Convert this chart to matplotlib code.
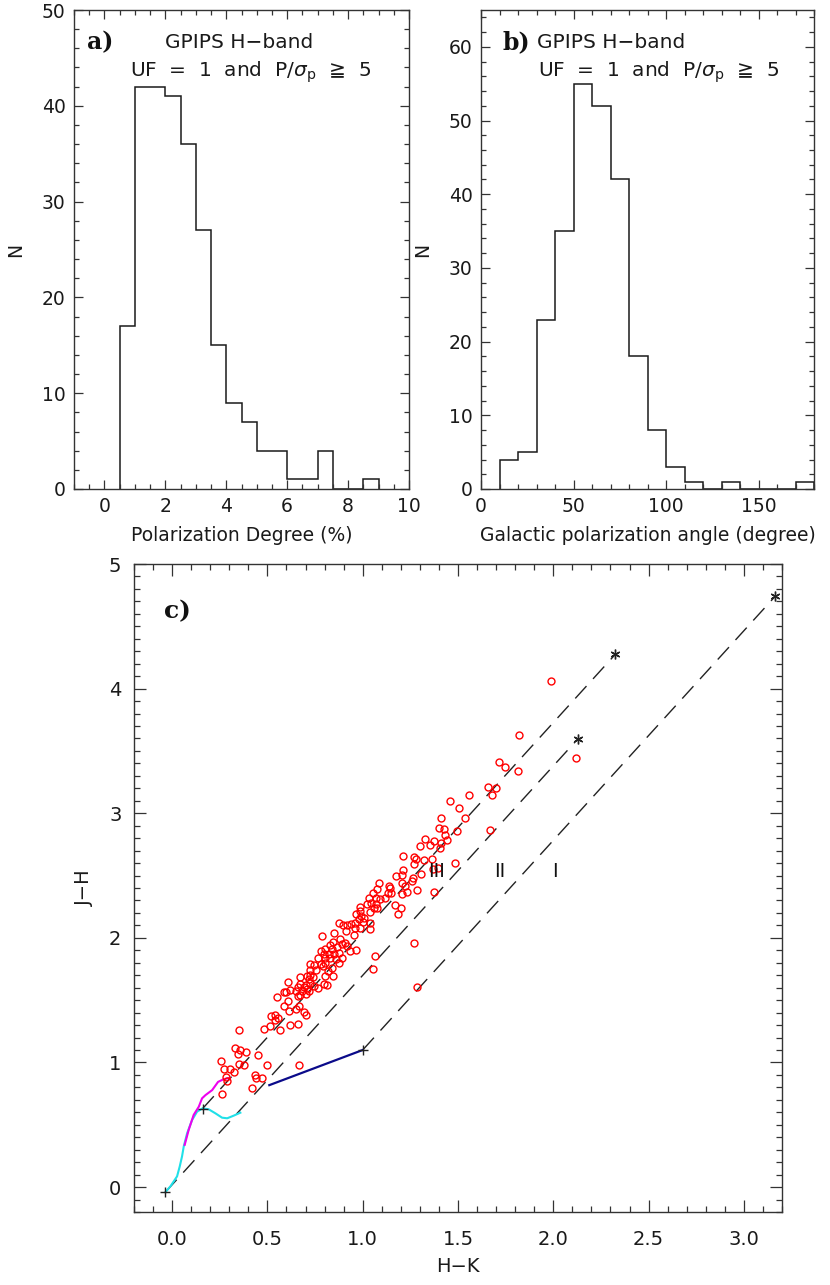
import numpy as np
import matplotlib
matplotlib.use("Agg")
import matplotlib.pyplot as plt
from matplotlib.ticker import MultipleLocator

plt.rcParams['font.family'] = ['DejaVu Sans']
plt.rcParams['mathtext.fontset'] = 'dejavusans'

# ---------------- data ----------------
# panel a: polarization degree histogram
pol_edges = [0.5, 1.0, 1.5, 2.0, 2.5, 3.0, 3.5, 4.0, 4.5, 5.0, 5.5, 6.0,
             6.5, 7.0, 7.5, 8.0, 8.5, 9.0]
pol_counts = [17, 42, 42, 41, 36, 27, 15, 9, 7, 4, 4, 1, 1, 4, 0, 0, 1]

# panel b: galactic polarization angle histogram
ang_edges = [10, 20, 30, 40, 50, 60, 70, 80, 90, 100, 110, 120, 130, 140,
             150, 160, 170, 180]
ang_counts = [4, 5, 23, 35, 55, 52, 42, 18, 8, 3, 1, 0, 1, 0, 0, 0, 1]

# panel c: colour-colour diagram (H-K, J-H)
star_hk = [1.988, 1.818, 1.714, 1.745, 1.815, 2.121, 1.656, 1.701, 1.679, 1.558,
           1.460, 1.506, 1.535, 1.413, 1.399, 1.425, 1.495, 1.430, 1.443, 1.329,
           1.373, 1.355, 1.303, 1.411, 1.408, 1.670, 1.212, 1.268, 1.282, 1.324,
           1.364, 1.268, 1.486, 1.212, 1.369, 1.393, 1.308, 1.207, 1.264, 1.259,
           1.207, 1.224, 1.285, 1.373, 1.233, 1.207, 1.201, 1.268,
           1.173, 1.138, 1.145, 1.088, 1.076, 1.131, 1.149, 1.172, 1.186, 1.055,
           1.070, 1.031, 1.093, 1.119, 1.044, 1.023, 1.070, 0.988, 1.061, 1.040,
           1.076, 0.984, 0.967, 0.992, 1.009, 0.979, 0.962, 1.002, 1.040, 0.939,
           0.918, 0.874, 0.894, 0.958, 0.988, 1.037, 0.848, 0.914, 0.953, 0.787,
           0.883, 0.845, 0.906, 0.892, 0.918, 0.831, 0.866, 0.804, 0.782, 0.935,
           0.965, 0.766, 0.799, 0.822, 0.726, 0.747, 0.782, 0.839, 0.892, 1.063,
           1.055, 1.285,
           0.839, 0.852, 0.874, 0.804, 0.831, 0.804, 0.790, 0.862, 0.874, 0.726,
           0.757, 0.816, 0.804, 0.845, 0.726, 0.740, 0.719, 0.708, 0.673, 0.607,
           0.795, 0.813, 0.673, 0.705, 0.726, 0.747, 0.764, 0.659, 0.694, 0.600,
           0.617, 0.652, 0.682, 0.708, 0.717, 0.589, 0.659, 0.673, 0.705, 0.549,
           0.607, 0.589, 0.664, 0.651, 0.612, 0.690, 0.705, 0.521, 0.538, 0.556,
           0.538, 0.484, 0.516, 0.568, 0.621, 0.659, 0.349, 0.332, 0.358, 0.344,
           0.390, 0.449, 0.349, 0.376, 0.257, 0.271, 0.302, 0.323, 0.285, 0.289,
           0.433, 0.442, 0.469, 0.496, 0.420, 0.262, 0.664]
star_jh = [4.058, 3.625, 3.409, 3.372, 3.338, 3.446, 3.210, 3.202, 3.143, 3.148,
           3.098, 3.039, 2.965, 2.965, 2.879, 2.871, 2.861, 2.827, 2.784, 2.795,
           2.779, 2.747, 2.741, 2.760, 2.720, 2.867, 2.656, 2.646, 2.635, 2.622,
           2.632, 2.595, 2.598, 2.547, 2.555, 2.560, 2.512, 2.502, 2.480, 2.460,
           2.441, 2.414, 2.380, 2.369, 2.369, 2.348, 2.241, 1.959,
           2.500, 2.420, 2.401, 2.441, 2.393, 2.361, 2.361, 2.263, 2.188, 2.356,
           2.321, 2.316, 2.313, 2.321, 2.279, 2.268, 2.273, 2.247, 2.236, 2.209,
           2.241, 2.215, 2.188, 2.175, 2.161, 2.148, 2.121, 2.127, 2.121, 2.109,
           2.103, 2.117, 2.103, 2.081, 2.081, 2.069, 2.041, 2.055, 2.023, 2.015,
           1.989, 1.967, 1.962, 1.954, 1.935, 1.943, 1.927, 1.909, 1.895, 1.895,
           1.901, 1.842, 1.869, 1.874, 1.789, 1.781, 1.794, 1.762, 1.837, 1.856,
           1.749, 1.608,
           1.909, 1.869, 1.882, 1.842, 1.842, 1.802, 1.776, 1.829, 1.802, 1.741,
           1.741, 1.736, 1.696, 1.696, 1.704, 1.682, 1.670, 1.696, 1.688, 1.648,
           1.630, 1.624, 1.630, 1.624, 1.634, 1.616, 1.598, 1.608, 1.603, 1.568,
           1.582, 1.571, 1.576, 1.590, 1.571, 1.563, 1.536, 1.544, 1.550, 1.523,
           1.496, 1.456, 1.456, 1.430, 1.411, 1.403, 1.377, 1.371, 1.377, 1.358,
           1.342, 1.265, 1.291, 1.257, 1.297, 1.310, 1.257, 1.116, 1.103, 1.071,
           1.081, 1.057, 0.991, 0.978, 1.012, 0.951, 0.946, 0.924, 0.884, 0.852,
           0.903, 0.879, 0.879, 0.978, 0.792, 0.744, 0.978]

# dwarf locus (cyan) and giant branch (magenta)
dwarf_hk = [-0.035, -0.009, 0.026, 0.040, 0.052, 0.061, 0.079, 0.105, 0.131,
            0.160, 0.192, 0.227, 0.262, 0.289, 0.323, 0.358]
dwarf_jh = [-0.040, 0.006, 0.086, 0.166, 0.246, 0.326, 0.433, 0.539, 0.605,
            0.632, 0.624, 0.592, 0.557, 0.552, 0.573, 0.597]
giant_hk = [0.066, 0.087, 0.113, 0.140, 0.157, 0.175, 0.210, 0.241, 0.271, 0.301]
giant_jh = [0.339, 0.459, 0.579, 0.645, 0.712, 0.738, 0.778, 0.844, 0.866, 0.876]

# CTTS locus (dark blue)
ctts_hk = [0.51, 1.00]
ctts_jh = [0.818, 1.10]

# reddening vectors: start (+) and end (*) points
red_start_hk = [0.160, -0.035, 1.000]
red_start_jh = [0.630, -0.040, 1.100]
red_end_hk = [2.326, 2.130, 3.165]
red_end_jh = [4.276, 3.598, 4.742]

region_labels = ['III', 'II', 'I']
region_hk = [1.39, 1.72, 2.01]
region_jh = [2.53, 2.53, 2.53]

# ---------------- figure ----------------
W, H = 830, 1285
fig = plt.figure(figsize=(W / 100, H / 100), dpi=100)

def px_axes(l, r, t, b):
    return fig.add_axes([l / W, 1 - b / H, (r - l) / W, (b - t) / H])

ink = '#1a1a1a'

def style(ax, fs, major_len, minor_len, pad):
    for s in ax.spines.values():
        s.set_linewidth(1.0)
        s.set_color('#333333')
    ax.tick_params(which='both', direction='in', top=True, right=True,
                   colors='#333333', labelcolor=ink, width=0.9)
    ax.tick_params(which='major', length=major_len, labelsize=fs, pad=pad)
    ax.tick_params(which='minor', length=minor_len)

FS_AB = 13.5

# panel a
axa = px_axes(74, 409, 10, 489)
axa.stairs(pol_counts, pol_edges, color=ink, linewidth=1.1)
axa.set_xlim(-1, 10)
axa.set_ylim(0, 50)
axa.xaxis.set_major_locator(MultipleLocator(2))
axa.xaxis.set_minor_locator(MultipleLocator(0.5))
axa.yaxis.set_major_locator(MultipleLocator(10))
axa.yaxis.set_minor_locator(MultipleLocator(2))
style(axa, FS_AB, 6.5, 3.5, 6)
axa.set_xlabel('Polarization Degree (%)', fontsize=FS_AB, color=ink, labelpad=7)
axa.set_ylabel('N', fontsize=FS_AB, color=ink, labelpad=12)
axa.text(0.078, 0.933, 'a)', transform=axa.transAxes, fontsize=17,
         fontweight='bold', family='DejaVu Serif', ha='center', va='center', color='#111111')
axa.text(0.493, 0.933, 'GPIPS H\u2212band', transform=axa.transAxes, fontsize=14.5,
         ha='center', va='center', color=ink)
axa.text(0.528, 0.870, 'UF  =  1  and  P/$\\sigma_{\\rm p}$  \u2267  5', transform=axa.transAxes,
         fontsize=14.5, ha='center', va='center', color=ink)

# panel b
axb = px_axes(481, 814, 10, 489)
axb.stairs(ang_counts, ang_edges, color=ink, linewidth=1.1)
axb.set_xlim(0, 180)
axb.set_ylim(0, 65)
axb.xaxis.set_major_locator(MultipleLocator(50))
axb.xaxis.set_minor_locator(MultipleLocator(10))
axb.yaxis.set_major_locator(MultipleLocator(10))
axb.yaxis.set_minor_locator(MultipleLocator(2))
style(axb, FS_AB, 6.5, 3.5, 6)
axb.set_xlabel('Galactic polarization angle (degree)', fontsize=FS_AB, color=ink, labelpad=7)
axb.set_ylabel('N', fontsize=FS_AB, color=ink, labelpad=12)
axb.text(0.105, 0.933, 'b)', transform=axb.transAxes, fontsize=17,
         fontweight='bold', family='DejaVu Serif', ha='center', va='center', color='#111111')
axb.text(0.168, 0.933, 'GPIPS H\u2212band', transform=axb.transAxes, fontsize=14.5,
         ha='left', va='center', color=ink)
axb.text(0.171, 0.870, 'UF  =  1  and  P/$\\sigma_{\\rm p}$  \u2267  5', transform=axb.transAxes,
         fontsize=14.5, ha='left', va='center', color=ink)

# panel c
axc = px_axes(134, 782, 564, 1212)
for x0, y0, x1, y1 in zip(red_start_hk, red_start_jh, red_end_hk, red_end_jh):
    axc.plot([x0, x1], [y0, y1], color='#222222', linewidth=1.0,
             dashes=(12, 7))
axc.plot(ctts_hk, ctts_jh, color='#0b0b8a', linewidth=1.6)
axc.plot(dwarf_hk, dwarf_jh, color='#20e0e8', linewidth=1.5)
axc.plot(giant_hk, giant_jh, color='#ee00ee', linewidth=1.5)
axc.plot(star_hk, star_jh, linestyle='none', marker='o', markersize=5,
         markerfacecolor='none', markeredgecolor='#ff0000', markeredgewidth=1.0)
axc.plot(red_start_hk, red_start_jh, linestyle='none', marker='+', markersize=7,
         color='#222222', markeredgewidth=1.0)
axc.plot(red_end_hk, red_end_jh, linestyle='none', marker=(6, 2, 0), markersize=7,
         color='#222222', markeredgewidth=1.0)
for lab, x, y in zip(region_labels, region_hk, region_jh):
    axc.text(x, y, lab, fontsize=14, ha='center', va='center', color='#111111')
axc.set_xlim(-0.2, 3.2)
axc.set_ylim(-0.2, 5.0)
axc.xaxis.set_major_locator(MultipleLocator(0.5))
axc.xaxis.set_minor_locator(MultipleLocator(0.1))
axc.yaxis.set_major_locator(MultipleLocator(1))
axc.yaxis.set_minor_locator(MultipleLocator(0.1))
style(axc, 14, 8.5, 4.3, 9)
axc.tick_params(axis='x', which='major', pad=13)
axc.set_xlabel('H\u2212K', fontsize=14, color=ink, labelpad=6)
axc.set_ylabel('J\u2212H', fontsize=14, color=ink, labelpad=11)
axc.text(0.03, 4.62, 'c)', fontsize=18, fontweight='bold', family='DejaVu Serif',
         ha='center', va='center', color='#111111')

fig.savefig('out.png', dpi=100)
